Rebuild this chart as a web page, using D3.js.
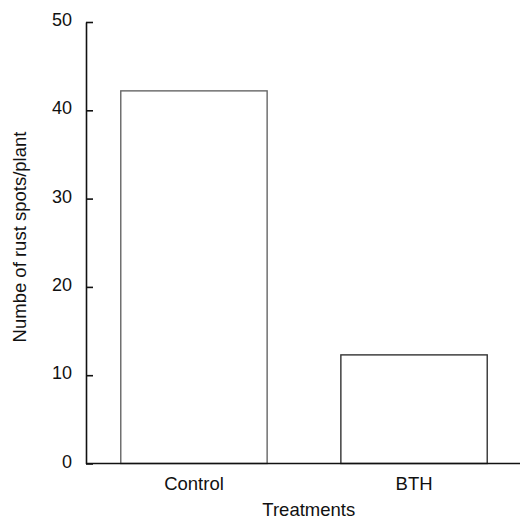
<!DOCTYPE html>
<html>
<head>
<meta charset="utf-8">
<script src="https://cdn.jsdelivr.net/npm/d3@7"></script>
<style>
	body { margin: 0; background: #fff; }
	svg { display: block; font-family: 'Liberation Sans', Arial, sans-serif; }
	.axis path, .axis line { stroke: #111; stroke-width: 1.6; }
	.axis text { font-family: 'Liberation Sans', Arial, sans-serif; font-size: 18px; fill: #111; }
	.axis.x text { font-size: 18.5px; }
	.label { font-size: 18.5px; fill: #111; }
</style>
</head>
<body>
<div id="chart"></div>
<script>
'use strict';

var categories = ['Control', 'BTH'];
var rustSpots = [42.2, 12.3];
var yTicks = [0, 10, 20, 30, 40, 50];

var width = 520;
var height = 518;
var margin = {top: 22, right: 0, bottom: 54.5, left: 86};
var innerW = width - margin.left - margin.right;
var innerH = height - margin.top - margin.bottom;

var svg = d3.select('#chart').append('svg')
	.attr('width', width)
	.attr('height', height)
	.append('g')
		.attr('transform', 'translate(' + margin.left + ',' + margin.top + ')');

var xScale = d3.scaleBand()
	.domain(categories)
	.range([0, innerW + 2])
	.paddingInner(0.335)
	.paddingOuter(0.158);

var yScale = d3.scaleLinear()
	.domain([0, 50])
	.range([innerH, 0]);

// bars
svg.append('g').attr('class', 'bars')
	.selectAll('rect')
	.data(categories)
	.enter()
	.append('rect')
	.attr('x', function(d){ return xScale(d); })
	.attr('y', function(d, i){ return yScale(rustSpots[i]); })
	.attr('width', xScale.bandwidth())
	.attr('height', function(d, i){ return yScale(0) - yScale(rustSpots[i]); })
	.attr('fill', '#fff')
	.attr('stroke', function(d, i){ return i === 0 ? '#666' : '#333'; })
	.attr('stroke-width', 1.4);

// x axis: plain line, category labels only
var xAxis = d3.axisBottom(xScale).tickSize(0).tickPadding(13);
var gx = svg.append('g')
	.attr('class', 'axis x')
	.attr('transform', 'translate(0,' + innerH + ')')
	.call(xAxis);
gx.select('.domain').attr('d', 'M0,0H' + (innerW + 2));

// y axis: ticks point inward
var yAxis = d3.axisLeft(yScale).tickValues(yTicks).tickSizeInner(-7).tickSizeOuter(0).tickPadding(14);
var gy = svg.append('g')
	.attr('class', 'axis y')
	.call(yAxis);
gy.selectAll('text').attr('dy', '0.2em');

svg.append('text')
	.attr('class', 'label')
	.attr('x', xScale('Control') + 188)
	.attr('y', innerH + 52)
	.attr('text-anchor', 'middle')
	.text('Treatments');

svg.append('text')
	.attr('class', 'label')
	.attr('transform', 'translate(' + (26 - margin.left) + ',' + (237 - margin.top) + ') rotate(-90)')
	.attr('text-anchor', 'middle')
	.text('Numbe of rust spots/plant');
</script>
</body>
</html>
